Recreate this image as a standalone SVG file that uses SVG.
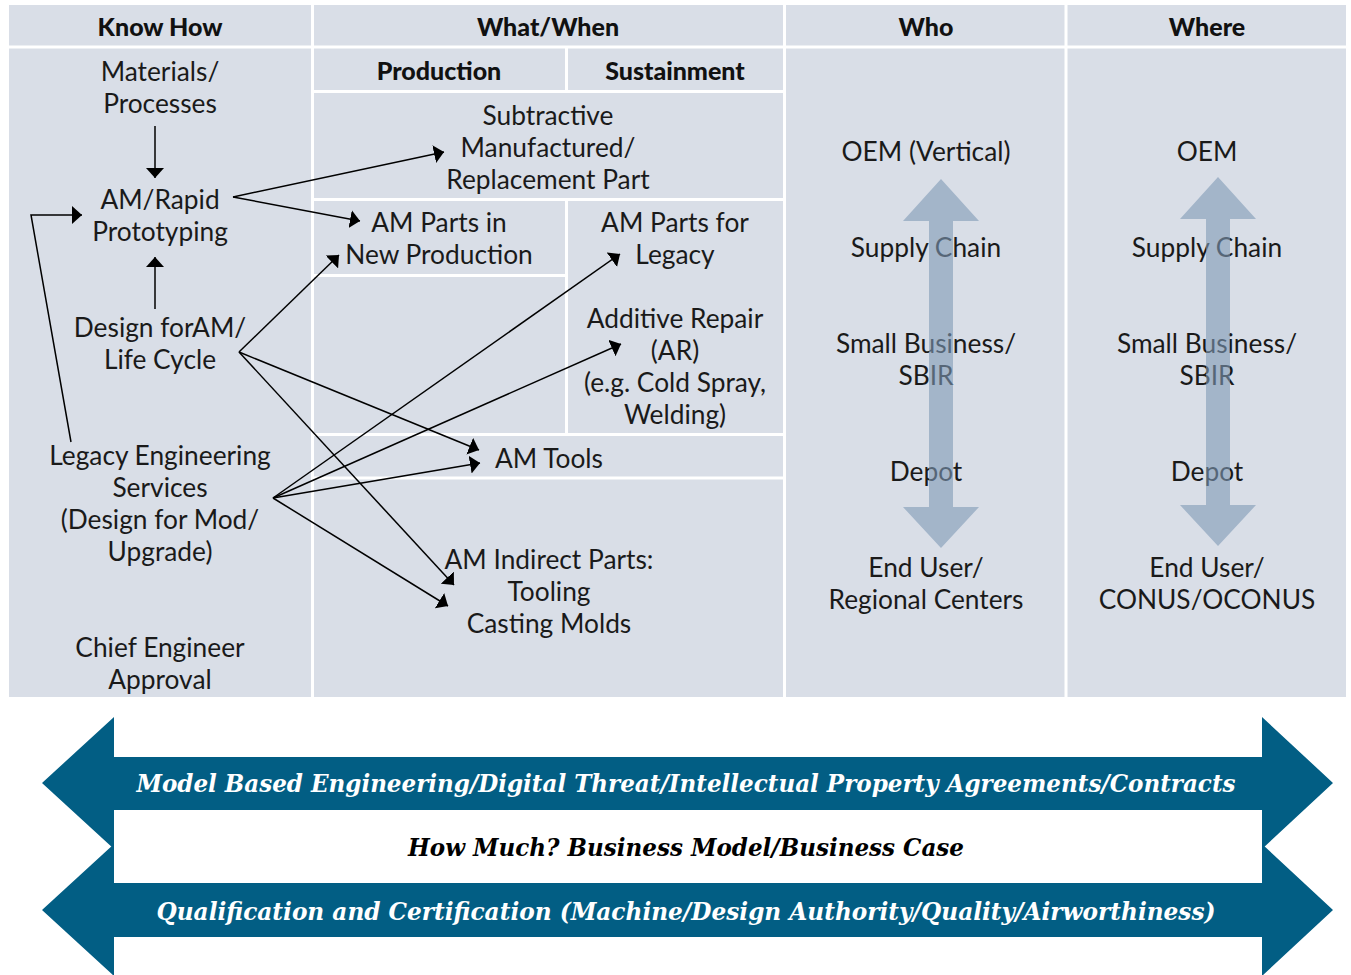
<svg xmlns="http://www.w3.org/2000/svg" width="1351" height="975" viewBox="0 0 1351 975">
<style>
.t{font-family:Lato,"Open Sans","Noto Sans",sans-serif;font-size:26.3px;fill:#1a1a1a;text-anchor:middle}
.h{font-family:Lato,"Open Sans","Noto Sans",sans-serif;font-size:25px;font-weight:900;fill:#111;text-anchor:middle}
.w{stroke:#fff;stroke-width:3;fill:none}
.c{stroke:#000;stroke-width:1.5;fill:none;marker-end:url(#ah)}
.big{fill:#7F9AB5;opacity:0.6}
.ban{fill:#025E84}
.bt{font-family:"DejaVu Serif","Liberation Serif",serif;font-style:italic;font-weight:bold;font-size:24px;text-anchor:middle}
</style>
<defs>
<marker id="ah" markerUnits="userSpaceOnUse" markerWidth="10" markerHeight="18" refX="10" refY="9" orient="auto" viewBox="0 0 10 18">
<path d="M0,0 L10,9 L0,18 z" fill="#000"/>
</marker>
</defs>
<rect x="0" y="0" width="1351" height="975" fill="#fff"/>
<g id="grid">
<rect x="9" y="5" width="1337" height="692" fill="#D9DEE7"/>
<line class="w" x1="312.5" y1="4" x2="312.5" y2="698"/>
<line class="w" x1="784.5" y1="4" x2="784.5" y2="698"/>
<line class="w" x1="1066" y1="4" x2="1066" y2="698"/>
<line class="w" x1="8" y1="47" x2="1347" y2="47"/>
<line class="w" x1="314" y1="91.5" x2="783" y2="91.5"/>
<line class="w" x1="566.5" y1="48" x2="566.5" y2="91"/>
<line class="w" x1="314" y1="199.5" x2="783" y2="199.5"/>
<line class="w" x1="566.5" y1="199" x2="566.5" y2="434"/>
<line class="w" x1="314" y1="275.5" x2="566" y2="275.5"/>
<line class="w" x1="314" y1="434.5" x2="783" y2="434.5"/>
<line class="w" x1="314" y1="478" x2="783" y2="478"/>
</g>
<g id="headers">
<text class="h" x="160" y="36">Know How</text>
<text class="h" x="548" y="36">What/When</text>
<text class="h" x="926" y="36">Who</text>
<text class="h" x="1207" y="36">Where</text>
<text class="h" x="439" y="80">Production</text>
<text class="h" x="675" y="80">Sustainment</text>
</g>
<g id="materials"><text class="t" x="160" y="81">Materials/</text><text class="t" x="160" y="113">Processes</text></g>
<g id="am-rapid"><text class="t" x="160" y="209">AM/Rapid</text><text class="t" x="160" y="241">Prototyping</text></g>
<g id="design"><text class="t" x="160" y="337">Design forAM/</text><text class="t" x="160" y="369">Life Cycle</text></g>
<g id="legacy-eng"><text class="t" x="160" y="465">Legacy Engineering</text><text class="t" x="160" y="497">Services</text><text class="t" x="160" y="529">(Design for Mod/</text><text class="t" x="160" y="561">Upgrade)</text></g>
<g id="chief"><text class="t" x="160" y="657">Chief Engineer</text><text class="t" x="160" y="689">Approval</text></g>
<g id="subtractive"><text class="t" x="548" y="125">Subtractive</text><text class="t" x="548" y="157">Manufactured/</text><text class="t" x="548" y="189">Replacement Part</text></g>
<g id="am-new"><text class="t" x="439" y="232">AM Parts in</text><text class="t" x="439" y="264">New Production</text></g>
<g id="am-legacy"><text class="t" x="675" y="232">AM Parts for</text><text class="t" x="675" y="264">Legacy</text></g>
<g id="repair"><text class="t" x="675" y="328">Additive Repair</text><text class="t" x="675" y="360">(AR)</text><text class="t" x="675" y="392">(e.g. Cold Spray,</text><text class="t" x="675" y="424">Welding)</text></g>
<g id="am-tools"><text class="t" x="549" y="468">AM Tools</text></g>
<g id="am-indirect"><text class="t" x="549" y="569">AM Indirect Parts:</text><text class="t" x="549" y="601">Tooling</text><text class="t" x="549" y="633">Casting Molds</text></g>
<g id="who">
<text class="t" x="926" y="161">OEM (Vertical)</text>
<text class="t" x="926" y="257">Supply Chain</text>
<text class="t" x="926" y="353">Small Business/</text>
<text class="t" x="926" y="385">SBIR</text>
<text class="t" x="926" y="481">Depot</text>
<text class="t" x="926" y="577">End User/</text>
<text class="t" x="926" y="609">Regional Centers</text>
<polygon class="big" points="941,179 903,221 929,221 929,507 903,507 941,548 979,507 953,507 953,221 979,221"/>
</g>
<g id="where">
<text class="t" x="1207" y="161">OEM</text>
<text class="t" x="1207" y="257">Supply Chain</text>
<text class="t" x="1207" y="353">Small Business/</text>
<text class="t" x="1207" y="385">SBIR</text>
<text class="t" x="1207" y="481">Depot</text>
<text class="t" x="1207" y="577">End User/</text>
<text class="t" x="1207" y="609">CONUS/OCONUS</text>
<polygon class="big" points="1218,177 1180,219 1206,219 1206,505 1180,505 1218,546 1256,505 1230,505 1230,219 1256,219"/>
</g>
<g id="connectors">
<line class="c" x1="155" y1="126" x2="155" y2="178"/>
<line class="c" x1="155" y1="309" x2="155" y2="257"/>
<polyline class="c" points="71,442 31,215 82,215"/>
<line class="c" x1="233" y1="197" x2="444" y2="152"/>
<line class="c" x1="233" y1="197" x2="360" y2="221"/>
<line class="c" x1="239" y1="352" x2="339" y2="255"/>
<line class="c" x1="239" y1="352" x2="479" y2="450"/>
<line class="c" x1="239" y1="352" x2="454" y2="585"/>
<line class="c" x1="273" y1="498" x2="620" y2="254"/>
<line class="c" x1="273" y1="498" x2="621" y2="344"/>
<line class="c" x1="273" y1="498" x2="480" y2="463"/>
<line class="c" x1="273" y1="498" x2="448" y2="606"/>
</g>
<g id="banner-top">
<polygon class="ban" points="42,783 114,717 114,757 1262,757 1262,717 1333,783 1262,849 1262,810 114,810 114,849"/>
<text class="bt" x="686" y="792" fill="#fff" textLength="1099" lengthAdjust="spacingAndGlyphs">Model Based Engineering/Digital Threat/Intellectual Property Agreements/Contracts</text>
</g>
<g id="banner-middle">
<text class="bt" x="686" y="856" fill="#000" textLength="556" lengthAdjust="spacingAndGlyphs">How Much? Business Model/Business Case</text>
</g>
<g id="banner-bottom">
<polygon class="ban" points="42,910 114,844 114,883 1262,883 1262,844 1333,910 1262,976 1262,937 114,937 114,976"/>
<text class="bt" x="686" y="920" fill="#fff" textLength="1059" lengthAdjust="spacingAndGlyphs">Qualification and Certification (Machine/Design Authority/Quality/Airworthiness)</text>
</g>
</svg>
